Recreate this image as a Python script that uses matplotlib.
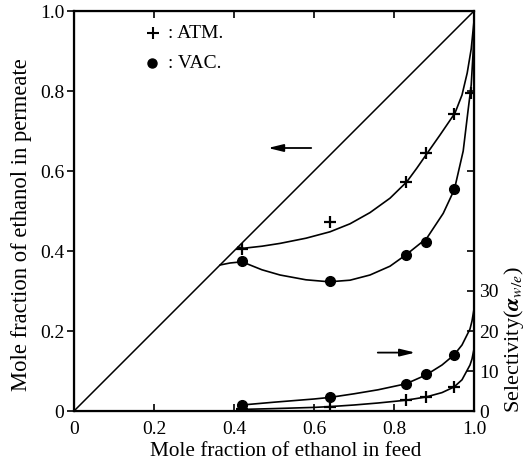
import matplotlib
matplotlib.use("Agg")
import matplotlib.pyplot as plt

plt.rcParams['font.family'] = ['Liberation Serif', 'DejaVu Serif']
plt.rcParams['mathtext.fontset'] = 'stix'

# measured points
feed = [0.42, 0.64, 0.83, 0.88, 0.95]
atm_perm = [0.405, 0.473, 0.573, 0.644, 0.742]
vac_perm = [0.374, 0.324, 0.391, 0.423, 0.554]
atm_sel = [0.4, 1.1, 2.75, 3.4, 5.9]
vac_sel = [1.5, 3.4, 6.75, 9.25, 14.0]
extra_x = [0.993]
extra_y = [0.796]

# smooth curves
atm_curve_x = [0.41, 0.425, 0.47, 0.515, 0.58, 0.64, 0.69, 0.74, 0.79, 0.832, 0.857, 0.882,
               0.915, 0.9525, 0.97, 0.983, 0.993, 1.0]
atm_curve_y = [0.41, 0.407, 0.412, 0.419, 0.432, 0.448, 0.468, 0.496, 0.532, 0.573, 0.607, 0.643,
               0.69, 0.745, 0.79, 0.845, 0.905, 0.975]
vac_curve_x = [0.365, 0.39, 0.42, 0.47, 0.515, 0.58, 0.638, 0.69, 0.74, 0.79, 0.832, 0.882,
               0.923, 0.951, 0.973, 0.985, 0.993, 0.998, 1.0]
vac_curve_y = [0.365, 0.37, 0.373, 0.353, 0.34, 0.328, 0.323, 0.327, 0.34, 0.362, 0.392, 0.432,
               0.494, 0.554, 0.65, 0.75, 0.815, 0.9, 0.96]
sel_x = [0.42, 0.5, 0.6, 0.64, 0.7, 0.76, 0.83, 0.88, 0.92, 0.95, 0.97, 0.99, 0.995, 1.0]
vac_sel_curve = [1.5, 2.2, 3.0, 3.4, 4.3, 5.3, 6.8, 9.0, 11.5, 14.0, 16.5, 20.5, 22.5, 25.5]
atm_sel_curve = [0.4, 0.6, 0.9, 1.1, 1.5, 2.0, 2.7, 3.5, 4.6, 6.0, 7.8, 11.5, 13.0, 15.5]

ticks = [0, 0.2, 0.4, 0.6, 0.8, 1.0]
tick_labels = ['0', '0.2', '0.4', '0.6', '0.8', '1.0']

fig = plt.figure(figsize=(5.28, 4.68), dpi=100)
ax = fig.add_axes([74/528, 57/468, 400/528, 400/468])

line_kw = dict(color='black', lw=1.2, solid_joinstyle='round', solid_capstyle='round')
ax.plot([0, 1], [0, 1], color='black', lw=1.1)
ax.plot(atm_curve_x, atm_curve_y, **line_kw)
ax.plot(vac_curve_x, vac_curve_y, **line_kw)
ax.plot(feed, atm_perm, '+', color='black', ms=9, mew=1.6)
ax.plot(extra_x, extra_y, '+', color='black', ms=9, mew=1.6)
ax.plot(feed, vac_perm, 'o', color='black', ms=7)

ax.set_xlim(0, 1)
ax.set_ylim(0, 1)
ax.set_xticks(ticks)
ax.set_xticklabels(tick_labels, fontsize=14)
ax.set_yticks(ticks)
ax.set_yticklabels(tick_labels, fontsize=14)
ax.tick_params(axis='x', direction='in', top=True, length=5, width=1.2, pad=7)
ax.tick_params(axis='y', direction='out', length=5, width=1.2, pad=2)
for s in ax.spines.values():
    s.set_linewidth(1.6)
ax.set_xlabel('Mole fraction of ethanol in feed', fontsize=15.3)
ax.set_ylabel('Mole fraction of ethanol in permeate', fontsize=16.3)
ax.xaxis.set_label_coords(0.53, -0.077)
ax.yaxis.set_label_coords(-0.106, 0.465)

# legend drawn as text
ax.plot([0.197], [0.945], '+', color='black', ms=8, mew=1.5)
ax.plot([0.195], [0.87], 'o', color='black', ms=6.5)
ax.text(0.235, 0.945, ': ATM.', fontsize=14, va='center')
ax.text(0.235, 0.87, ': VAC.', fontsize=14, va='center')

# arrows
ax.annotate('', xy=(0.478, 0.6575), xytext=(0.6, 0.6575),
            arrowprops=dict(arrowstyle='-|>,head_length=0.9,head_width=0.22', color='black', lw=1.3))
ax.annotate('', xy=(0.86, 0.146), xytext=(0.7525, 0.146),
            arrowprops=dict(arrowstyle='-|>,head_length=0.9,head_width=0.22', color='black', lw=1.3))

ax2 = ax.twinx()
ax2.set_ylim(0, 100)
ax2.plot(sel_x, vac_sel_curve, **line_kw)
ax2.plot(sel_x, atm_sel_curve, **line_kw)
ax2.plot(feed, vac_sel, 'o', color='black', ms=7)
ax2.plot(feed, atm_sel, '+', color='black', ms=9, mew=1.6)
ax2.set_yticks([0, 10, 20, 30, 40, 60, 80])
ax2.set_yticklabels(['0', '10', '20', '30', '', '', ''], fontsize=14)
ax2.tick_params(axis='y', direction='in', length=5, width=1.2, pad=4)
fig.text(0.973, 0.275, r'Selectivity($\boldsymbol{\alpha}_{w/e}$)', rotation=90,
         ha='center', va='center', fontsize=16)

fig.savefig('out.png', dpi=100)
